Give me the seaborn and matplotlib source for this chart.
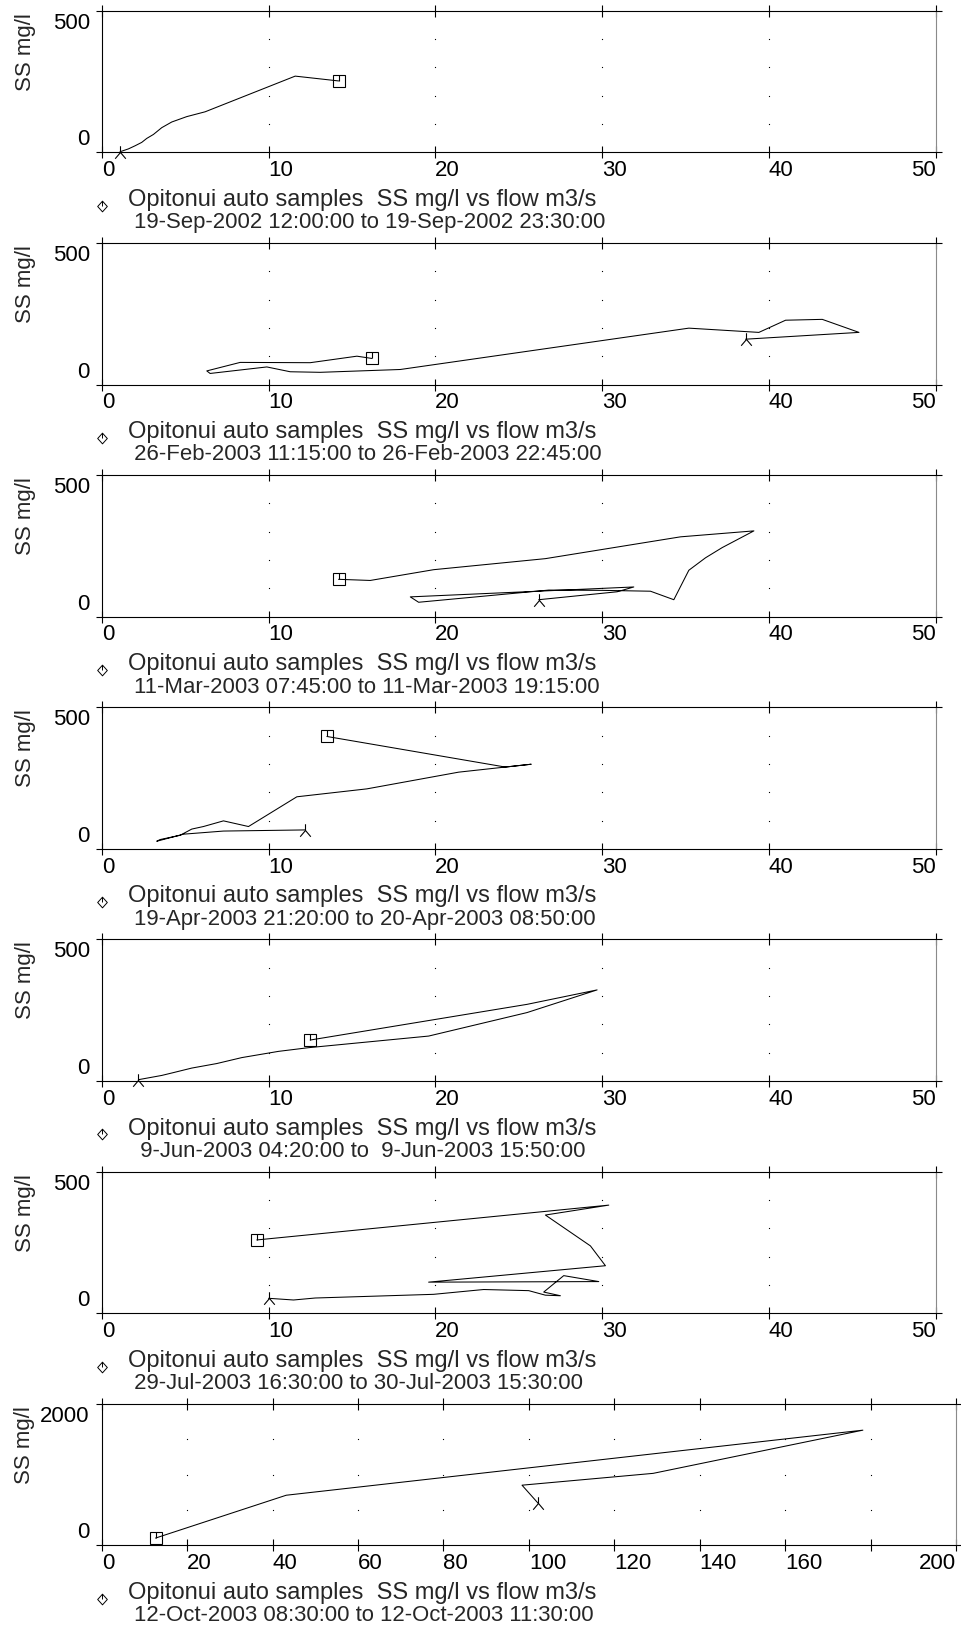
import numpy as np
import pandas as pd
import matplotlib
matplotlib.use("Agg")
import matplotlib.pyplot as plt
from matplotlib.path import Path
from matplotlib.transforms import ScaledTranslation
import seaborn as sns

sns.set_style("white")
plt.rcParams["font.family"] = ["Liberation Sans", "DejaVu Sans"]

# ---------------------------------------------------------------------------
# Storm-event hysteresis loops: suspended sediment (mg/l) against flow (m3/s)
# ---------------------------------------------------------------------------
series_title = "Opitonui auto samples  SS mg/l vs flow m3/s"

flow_sep02 = [1.1, 1.6, 2.0, 2.4, 2.7, 3.1, 3.6, 4.2, 5.1, 6.2, 11.6, 14.2]
ss_sep02 = [2, 12, 23, 35, 49, 63, 87, 107, 126, 143, 269, 252]
period_sep02 = " 19-Sep-2002 12:00:00 to 19-Sep-2002 23:30:00"

flow_feb03 = [38.6, 45.4, 43.2, 41.0, 39.4, 35.2, 17.9, 13.1, 11.3, 9.9, 6.5,
              6.3, 8.3, 12.5, 15.3, 16.2]
ss_feb03 = [160, 184, 230, 227, 184, 199, 53, 43, 45, 62, 39, 48, 78, 77, 100, 92]
period_feb03 = " 26-Feb-2003 11:15:00 to 26-Feb-2003 22:45:00"

flow_mar03 = [26.2, 30.9, 31.9, 18.5, 19.0, 26.8, 30.0, 32.9, 34.3, 35.2, 36.2,
              37.2, 39.1, 34.7, 26.6, 19.9, 16.1, 14.2]
ss_mar03 = [60, 88, 105, 70, 51, 94, 93, 90, 60, 164, 208, 244, 303, 282, 205,
            166, 128, 132]
period_mar03 = " 11-Mar-2003 07:45:00 to 11-Mar-2003 19:15:00"

flow_apr03 = [12.2, 7.3, 4.9, 3.3, 3.5, 4.7, 5.4, 6.1, 7.3, 8.8, 11.7, 15.9,
              21.4, 25.75, 24.2, 13.5]
ss_apr03 = [67, 63, 52, 27, 33, 48, 70, 79, 99, 79, 184, 212, 271, 299, 289, 397]
period_apr03 = " 19-Apr-2003 21:20:00 to 20-Apr-2003 08:50:00"

flow_jun03 = [2.2, 3.6, 4.3, 5.4, 6.9, 8.4, 10.6, 12.4, 19.6, 25.5, 29.7, 25.5, 12.5]
ss_jun03 = [5, 20, 30, 46, 62, 83, 105, 118, 159, 242, 322, 271, 145]
period_jun03 = "  9-Jun-2003 04:20:00 to  9-Jun-2003 15:50:00"

flow_jul03 = [10.0, 11.5, 12.8, 19.9, 22.9, 25.6, 26.6, 27.5, 26.5, 27.7, 29.8,
              19.6, 30.2, 29.3, 26.6, 30.4, 9.3]
ss_jul03 = [53, 47, 54, 67, 84, 80, 64, 62, 75, 133, 112, 110, 168, 238, 347, 382, 259]
period_jul03 = " 29-Jul-2003 16:30:00 to 30-Jul-2003 15:30:00"

flow_oct03 = [102.2, 98.4, 129.1, 178.2, 43.2, 12.6]
ss_oct03 = [595, 852, 1019, 1629, 710, 105]
period_oct03 = " 12-Oct-2003 08:30:00 to 12-Oct-2003 11:30:00"

xtick_labels_50 = ["0", "10", "20", "30", "40", "50"]
xtick_labels_200 = ["0", "20", "40", "60", "80", "100", "120", "140", "160", "", "200"]

panels = [
    (flow_sep02, ss_sep02, period_sep02, 50, 10, 500, 100, xtick_labels_50),
    (flow_feb03, ss_feb03, period_feb03, 50, 10, 500, 100, xtick_labels_50),
    (flow_mar03, ss_mar03, period_mar03, 50, 10, 500, 100, xtick_labels_50),
    (flow_apr03, ss_apr03, period_apr03, 50, 10, 500, 100, xtick_labels_50),
    (flow_jun03, ss_jun03, period_jun03, 50, 10, 500, 100, xtick_labels_50),
    (flow_jul03, ss_jul03, period_jul03, 50, 10, 500, 100, xtick_labels_50),
    (flow_oct03, ss_oct03, period_oct03, 200, 20, 2000, 500, xtick_labels_200),
]

# ---------------------------------------------------------------------------
# Layout (pixels at 100 dpi)
# ---------------------------------------------------------------------------
W, H, DPI = 961, 1636, 100
AX_LEFT, AX_TOP0, AX_STEP, AX_H = 101.7, 10.7, 232.2, 141.6
WIDTH_NARROW, WIDTH_WIDE = 834.0, 854.3

TICK_FS, TITLE_FS, PERIOD_FS, YLABEL_FS = 16, 17, 15.9, 16
LW = 0.8

# Start-of-event symbol: stem above the point, two legs below it
start_marker = Path([(0, 0), (0, 1), (-0.85, -1), (0, 0), (0.85, -1)],
                    [Path.MOVETO, Path.LINETO, Path.MOVETO, Path.LINETO, Path.LINETO])
# Stem drawn inside the end-of-event square
stem_marker = Path([(0, 0), (0, 1)], [Path.MOVETO, Path.LINETO])
# Series key symbol: open diamond with a stroke from its top vertex
key_marker = Path([(0, 1), (0.9, 0), (0, -1), (-0.9, 0), (0, 1), (0, 0)],
                  [Path.MOVETO, Path.LINETO, Path.LINETO, Path.LINETO,
                   Path.LINETO, Path.LINETO])

fig = plt.figure(figsize=(W / DPI, H / DPI), dpi=DPI)


def px_offset(dx, dy):
    return ScaledTranslation(dx / DPI, dy / DPI, fig.dpi_scale_trans)


for i, (flow, ss, period, xmax, xstep, ymax, ystep, xlabels) in enumerate(panels):
    top = AX_TOP0 + i * AX_STEP
    width = WIDTH_NARROW if xmax == 50 else WIDTH_WIDE
    ax = fig.add_axes([AX_LEFT / W, 1 - (top + AX_H) / H, width / W, AX_H / H])

    # dotted grid: single dots where interior x ticks meet the y levels
    gx = np.arange(xstep, xmax, xstep)
    gy = np.arange(ystep, ymax, ystep)
    GX, GY = np.meshgrid(gx, gy)
    ax.plot(GX.ravel(), GY.ravel(), ls="none", marker="s", ms=0.8, mew=0,
            color="black", zorder=1)

    df = pd.DataFrame({"flow": flow, "ss": ss})
    sns.lineplot(data=df, x="flow", y="ss", sort=False, estimator=None,
                 color="black", lw=0.75, ax=ax, zorder=3)
    ax.plot(flow[0], ss[0], marker=start_marker, ms=9.0, mfc="none",
            mec="black", mew=0.8, zorder=4, clip_on=False)
    ax.plot(flow[-1], ss[-1], marker="s", ms=8.2, mfc="none",
            mec="black", mew=0.8, zorder=4, clip_on=False)
    ax.plot(flow[-1], ss[-1], marker=stem_marker, ms=8.2, mfc="none",
            mec="black", mew=0.8, zorder=4, clip_on=False)

    ax.set_xlim(0, xmax)
    ax.set_ylim(0, ymax)
    ax.set_xlabel("")

    xticks = np.arange(0, xmax + xstep, xstep)
    ax.set_xticks(xticks, xlabels)
    ax.tick_params(axis="x", bottom=True, top=True, direction="inout",
                   length=8.6, width=LW, pad=1.2, labelsize=TICK_FS,
                   colors="black")
    ax.set_yticks([0, ymax], ["0", str(ymax)])
    ax.tick_params(axis="y", left=True, right=True, direction="out",
                   length=4.0, width=LW, pad=4.6, labelsize=TICK_FS,
                   colors="black")

    xl = ax.get_xticklabels()
    for lbl in xl:
        lbl.set_ha("left")
    xl[-1].set_ha("right")

    yl = ax.get_yticklabels()
    yl[0].set_va("baseline")
    yl[0].set_transform(yl[0].get_transform() + px_offset(0, 7))
    yl[1].set_va("top")
    yl[1].set_transform(yl[1].get_transform() + px_offset(0, -2))

    for side in ("top", "bottom", "left"):
        ax.spines[side].set_color("black")
        ax.spines[side].set_linewidth(LW)
    ax.spines["right"].set_color("#8a8a8a")
    ax.spines["right"].set_linewidth(LW)

    ax.set_ylabel("SS mg/l", loc="top", fontsize=YLABEL_FS, va="center")
    ax.yaxis.set_label_coords((25 - AX_LEFT) / width, 1 - 2 / AX_H)

    # series key and event period below the panel
    base = ax.transAxes
    ax.plot([0], [0], marker=key_marker, ms=7.7, mfc="none", mec="black",
            mew=0.7, transform=base + px_offset(0.3, -53.2), clip_on=False)
    ax.text(0, 0, series_title, fontsize=TITLE_FS, ha="left", va="baseline",
            transform=base + px_offset(26.3, -53.5))
    ax.text(0, 0, period, fontsize=PERIOD_FS, ha="left", va="baseline",
            transform=base + px_offset(26.3, -76))

fig.savefig("out.png", dpi=DPI)
